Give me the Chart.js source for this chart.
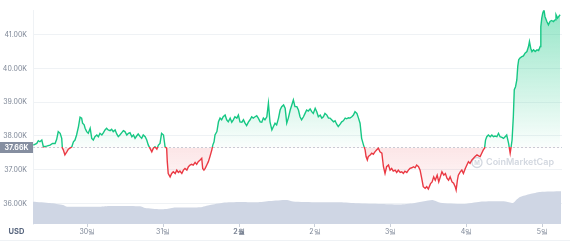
<!DOCTYPE html>
<html><head><meta charset="utf-8">
<script src="https://cdn.jsdelivr.net/npm/chart.js@4"></script>
<style>html,body{margin:0;padding:0;background:#fff;overflow:hidden}</style>
</head><body>
<canvas id="c" width="570" height="242" style="display:block;width:570px;height:242px"></canvas>
<script>
// hours from 30 Jan 00:00
const priceHours = [-17.1,-16.0,-15.5,-15.0,-14.4,-13.9,-12.9,-11.8,-11.0,-10.2,-9.7,-9.2,-8.6,-8.1,-7.9,-7.6,-7.1,-6.5,-6.0,-5.5,-4.9,-4.4,-3.9,-3.4,-2.8,-2.3,-1.8,-1.5,-1.0,-0.7,-0.2,0.3,0.9,1.4,1.9,2.4,3.0,3.5,4.0,4.6,5.1,5.6,6.1,6.6,7.2,7.7,8.2,8.8,9.3,9.8,10.3,10.9,11.4,11.9,12.5,13.0,13.5,14.1,14.6,15.1,15.6,16.1,16.7,17.2,17.7,18.3,18.8,19.3,19.8,20.4,20.9,21.4,22.0,22.5,23.0,23.5,24.1,24.6,25.1,25.3,25.6,26.2,26.7,27.2,27.8,28.3,28.8,29.3,29.9,30.4,30.9,31.5,32.0,32.5,33.0,33.5,34.1,34.6,35.1,35.7,36.2,36.5,36.9,37.3,37.8,38.3,38.8,39.4,39.7,40.1,40.4,41.0,41.5,42.0,42.5,43.0,43.6,44.1,44.6,45.2,45.7,46.2,46.7,47.3,47.8,48.3,48.9,49.4,49.9,50.4,51.0,51.5,52.0,52.5,53.1,53.6,54.1,54.7,55.2,55.7,56.2,56.8,57.3,57.8,58.4,58.9,59.4,59.9,60.5,61.0,61.5,62.1,62.6,63.1,63.6,64.2,64.7,65.2,65.7,66.3,66.8,67.3,67.8,68.4,68.9,69.4,69.9,70.5,71.0,71.5,72.1,72.6,73.1,73.7,74.2,74.7,75.2,75.8,76.3,76.8,77.3,77.9,78.4,78.9,79.4,80.0,80.5,81.0,81.6,82.1,82.6,83.1,83.7,84.2,84.7,85.3,85.8,86.3,86.8,87.4,87.9,88.2,88.6,88.9,89.5,90.0,90.5,91.0,91.6,92.1,92.6,93.2,93.7,94.2,94.7,95.3,95.8,96.3,96.8,97.4,97.9,98.4,99.0,99.5,100.0,100.5,101.1,101.6,102.1,102.7,103.2,103.7,104.2,104.8,105.3,105.8,106.3,106.9,107.4,107.9,108.6,109.1,109.6,110.1,110.7,111.2,111.7,112.2,112.8,113.3,113.8,114.3,114.8,115.4,115.9,116.4,116.7,117.1,117.4,118.0,118.5,119.0,119.6,120.1,120.6,121.1,121.7,122.2,122.7,123.3,123.8,124.3,124.8,125.3,125.7,126.0,126.4,126.9,127.5,128.0,128.5,129.0,129.6,130.1,130.6,131.2,131.7,132.2,132.7,133.3,133.8,134.1,134.4,134.8,135.1,135.5,135.9,136.2,136.5,136.9,137.5,138.0,138.5,139.1,139.6,139.9,140.3,140.7,141.2,141.7,142.3,142.8,143.3,143.5,143.8,144.1,144.5,144.8,145.4,145.9,146.4,146.9,147.5,148.0,148.3,148.8,149.2,149.6];
const prices = [37730,37780,37860,37830,37880,37680,37700,37730,37780,37780,37900,38130,38080,37930,37640,37590,37440,37530,37610,37640,37680,37830,37880,38030,38280,38560,38530,38380,38330,38230,38130,38080,38230,37930,37880,37980,38030,37980,38080,38030,38100,38180,38230,38180,38160,38200,38130,38180,38060,37980,38030,38100,38160,38130,38030,38080,38100,37980,38030,37930,38000,38060,37980,37930,38030,37980,37880,37730,37640,37530,37640,37680,37610,37730,37780,38080,38030,37680,37640,37240,36890,36790,36890,36940,36890,36990,36920,36960,36890,36990,37040,36990,37090,37140,37160,37140,37220,37160,37240,37290,37340,37040,36990,37040,37140,37240,37390,37590,37730,37830,38030,38130,38420,38530,38480,38570,38620,38480,38420,38530,38410,38480,38570,38530,38620,38420,38410,38480,38380,38310,38420,38480,38570,38530,38570,38600,38530,38420,38410,38530,38480,38570,38970,38420,38180,38280,38380,38330,38530,38770,38870,38920,38820,38380,38530,38770,38920,39070,38870,38870,38770,38570,38480,38570,38670,38770,38740,38800,38720,38670,38820,38720,38570,38620,38530,38570,38670,38620,38530,38530,38480,38420,38450,38350,38280,38350,38420,38450,38530,38510,38540,38530,38570,38620,38720,38670,38530,38380,37930,37730,37590,37390,37290,37390,37440,37490,37460,37530,37590,37640,37530,37490,37090,36890,37090,37140,36990,37040,36960,36990,36920,36990,36920,36940,36890,36960,36920,36990,37040,37060,37090,37060,37140,37090,36990,36750,36500,36450,36500,36430,36590,36640,36790,36690,36840,36640,36790,36940,36840,36890,36750,36690,36790,36640,36600,36500,36400,36690,36840,36940,36990,36890,37040,37140,37240,37190,37290,37340,37390,37440,37410,37390,37490,37590,37640,37880,37980,38030,37980,38030,37980,38000,37980,38080,37980,37960,37930,37980,38030,37780,37490,37680,37880,38570,39370,39460,39660,40060,40260,40310,40350,40370,40450,40500,40650,40800,40600,40500,40550,40500,40550,40530,40650,41240,41490,41640,41740,41540,41390,41290,41390,41420,41390,41440,41590,41490,41540,41590];
const volHours = [-17.2,-11.8,-7.7,-6.4,4.0,7.2,16.7,18.3,23.0,24.9,27.8,35.7,38.8,42.9,48.3,53.7,57.8,63.2,65.1,72.7,80.0,85.4,92.7,98.9,103.1,109.1,111.7,118.9,124.3,132.2,134.7,135.7,136.9,140.1,143.3,149.9];
const volumes = [22.3,21,19,17.3,17.3,18,17.7,16,14.7,15,16.5,16.7,19,21.3,22,21.7,23,24,22.5,21.7,21.7,20.7,20,19.5,20.7,24,21.3,20,22.3,22.6,21,24,27,30,32,32.7];
const dayTicks = [0,24,48,72,96,120,144];
const dayLabels = ['30일','31일','2월','2일','3일','4일','5일'];
const yTicks = [36000,37000,38000,39000,40000,41000];
const BASE = 37660;
const baseLabel = '37.66K';

const GREEN = '#16c784', RED = '#ea3943';
const FONT = 'Inter';

const decor = {
  id: 'decor',
  beforeDatasetsDraw(chart) {
    const {ctx, chartArea: ca, scales} = chart;
    const by = scales.y.getPixelForValue(BASE);
    ctx.save();
    // watermark
    ctx.fillStyle = '#d3d8e0';
    ctx.strokeStyle = '#d3d8e0';
    ctx.font = '600 9px ' + FONT;
    ctx.textBaseline = 'middle';
    ctx.textAlign = 'right';
    const wy = by + 15;
    ctx.fillText('CoinMarketCap', ca.right - 8, wy);
    const tw = ctx.measureText('CoinMarketCap').width;
    const cx = ca.right - 8 - tw - 9;
    ctx.lineWidth = 1.3;
    ctx.beginPath();
    ctx.arc(cx, wy, 5, 0, Math.PI * 2);
    ctx.stroke();
    ctx.font = 'bold 6px ' + FONT;
    ctx.textAlign = 'center';
    ctx.fillText('M', cx, wy + 0.5);
    // baseline dotted
    ctx.strokeStyle = '#c9cfd9';
    ctx.lineWidth = 1;
    ctx.setLineDash([2, 2]);
    ctx.beginPath();
    ctx.moveTo(ca.left, Math.round(by) + 0.5);
    ctx.lineTo(ca.right, Math.round(by) + 0.5);
    ctx.stroke();
    ctx.restore();
  },
  afterDraw(chart) {
    const {ctx, chartArea: ca, scales, width, height} = chart;
    const by = scales.y.getPixelForValue(BASE);
    ctx.save();
    ctx.fillStyle = '#858ea0';
    ctx.fillRect(0, Math.round(by) - 5, ca.left, 11);
    ctx.fillStyle = '#ffffff';
    ctx.font = 'bold 7px ' + FONT;
    ctx.textAlign = 'center';
    ctx.textBaseline = 'middle';
    ctx.fillText(baseLabel, ca.left / 2, Math.round(by) + 0.5);
    ctx.fillStyle = '#58667e';
    ctx.font = 'bold 7.5px ' + FONT;
    ctx.fillText('USD', ca.left / 2, ca.bottom + 8);
    ctx.fillStyle = '#eff2f5';
    ctx.fillRect(0, height - 2, width, 1);
    ctx.restore();
  }
};

const chart = new Chart(document.getElementById('c'), {
  type: 'line',
  data: {
    datasets: [
      {
        label: 'Price',
        data: priceHours.map((h, i) => ({x: h, y: prices[i]})),
        yAxisID: 'y',
        borderColor: GREEN,
        borderWidth: 1.4,
        pointRadius: 0,
        tension: 0,
        fill: {target: {value: BASE}, above: 'rgba(22,199,132,0.15)', below: 'rgba(234,57,67,0.1)'},
        order: 1
      },
      {
        label: 'Volume',
        data: volHours.map((h, i) => ({x: h, y: volumes[i]})),
        yAxisID: 'vol',
        borderWidth: 0,
        borderColor: 'rgba(0,0,0,0)',
        backgroundColor: '#cfd6e4',
        pointRadius: 0,
        tension: 0.2,
        fill: 'origin',
        order: 2
      }
    ]
  },
  options: {
    responsive: false,
    devicePixelRatio: 1,
    animation: false,
    events: [],
    layout: {padding: {top: 4, right: 8, left: 0, bottom: 0}},
    plugins: {legend: {display: false}, tooltip: {enabled: false}},
    scales: {
      x: {
        type: 'linear',
        min: -17.19,
        max: 150.2,
        afterBuildTicks: s => { s.ticks = dayTicks.map(v => ({value: v})); },
        afterFit: s => { s.height = 18; },
        ticks: {
          autoSkip: false,
          maxRotation: 0,
          padding: 1,
          color: '#7d8696',
          font: c => ({family: FONT, size: 7, weight: (c.tick && c.tick.value === 48) ? 'bold' : 'normal'}),
          callback: v => dayLabels[dayTicks.indexOf(v)]
        },
        grid: {drawOnChartArea: false, drawTicks: true, tickLength: 3, color: '#c9cfd9'},
        border: {display: false}
      },
      y: {
        position: 'left',
        min: 35389,
        max: 41857,
        afterBuildTicks: s => { s.ticks = yTicks.map(v => ({value: v})); },
        afterFit: s => { s.width = 33; },
        ticks: {
          padding: 6,
          color: '#7d8696',
          font: {family: FONT, size: 7},
          callback: v => (v / 1000).toFixed(2) + 'K'
        },
        grid: {color: '#eff2f5', drawTicks: false},
        border: {display: true, color: '#eff2f5'}
      },
      vol: {
        display: false,
        min: 0,
        max: 218
      }
    }
  },
  plugins: [decor]
});

(function finish() {
  // fit the price range to the laid-out chart area (38.00K row at 136px, 33.77px per 1000)
  let ca = chart.chartArea;
  const ppk = 33.77 / 1000;
  chart.options.scales.y.min = 38000 - (ca.bottom - 136) / ppk;
  chart.options.scales.y.max = 38000 + (136 - ca.top) / ppk;
  chart.options.scales.vol.max = ca.bottom - ca.top;
  chart.update('none');

  const ctx = chart.ctx, ys = chart.scales.y;
  ca = chart.chartArea;
  const by = ys.getPixelForValue(BASE);
  const f = Math.min(1, Math.max(0, (by - ca.top) / (ca.bottom - ca.top)));
  const lg = ctx.createLinearGradient(0, ca.top, 0, ca.bottom);
  lg.addColorStop(0, GREEN); lg.addColorStop(f, GREEN);
  lg.addColorStop(f, RED); lg.addColorStop(1, RED);
  const topY = ys.getPixelForValue(Math.max(...prices));
  const gg = ctx.createLinearGradient(0, topY, 0, by);
  gg.addColorStop(0, 'rgba(22,199,132,0.45)');
  gg.addColorStop(1, 'rgba(22,199,132,0.02)');
  const botY = ys.getPixelForValue(Math.min(...prices));
  const rg = ctx.createLinearGradient(0, by, 0, botY);
  rg.addColorStop(0, 'rgba(234,57,67,0.13)');
  rg.addColorStop(1, 'rgba(234,57,67,0.03)');
  const ds = chart.data.datasets[0];
  ds.borderColor = lg;
  ds.fill = {target: {value: BASE}, above: gg, below: rg};
  chart.update('none');
})();
</script>
</body></html>
